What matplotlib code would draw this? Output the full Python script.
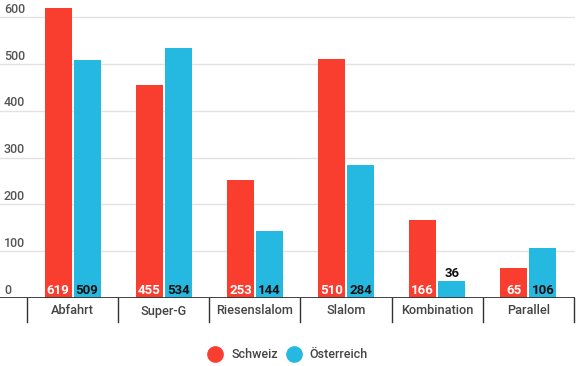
import matplotlib
matplotlib.use("Agg")
import matplotlib.pyplot as plt
import numpy as np

categories = ["Abfahrt", "Super-G", "Riesenslalom", "Slalom", "Kombination", "Parallel"]
schweiz = [619, 455, 253, 510, 166, 65]
oesterreich = [509, 534, 144, 284, 36, 106]
series_names = ["Schweiz", "Österreich"]
yticks = [0, 100, 200, 300, 400, 500, 600]

RED = "#F93E30"
BLUE = "#25B9E1"
plt.rcParams['font.family'] = ['Roboto', 'DejaVu Sans']

W, H = 582, 366
fig = plt.figure(figsize=(W/100, H/100), dpi=100)
top_px = 17 - 281 * (630 - 600) / 600
ax = fig.add_axes([0, (H-298)/H, 575/W, (298-top_px)/H])
ax.set_ylim(0, 630)
unit = 91.2
ax.set_xlim(-0.5 - 27/unit, 5.5 + 1/unit)

x = np.arange(len(categories))
bw = 27/unit
off = 14.5/unit
ax.bar(x - off, schweiz, bw, color=RED, zorder=3)
ax.bar(x + off, oesterreich, bw, color=BLUE, zorder=3)

for xi, v in zip(x, schweiz):
    if v >= 60:
        ax.text(xi - off, 2, str(v), ha='center', va='bottom', color='white', fontsize=9.5, fontweight='bold', zorder=4)
    else:
        ax.text(xi - off, v + 3, str(v), ha='center', va='bottom', color='#111', fontsize=9.5, fontweight='bold', zorder=4)
for xi, v in zip(x, oesterreich):
    if v >= 60:
        ax.text(xi + off, 2, str(v), ha='center', va='bottom', color='#111', fontsize=9.5, fontweight='bold', zorder=4)
    else:
        ax.text(xi + off, v + 3, str(v), ha='center', va='bottom', color='#111', fontsize=9.5, fontweight='bold', zorder=4)

for s in ax.spines.values():
    s.set_visible(False)
ax.set_yticks([])
ax.set_xticks([])
for t in yticks:
    if t > 0:
        ax.axhline(t, color='#e2e2e2', lw=1, zorder=1)
    ax.text(-0.5 - 23/unit, t + 2.5, str(t), ha='left', va='bottom', fontsize=9, color='#555555', fontweight='medium', zorder=4)
ax.axhline(0, color='#333333', lw=1.3, zorder=5)

scale = 630/(298-top_px)
for i in range(len(categories) + 1):
    ax.plot([i - 0.5, i - 0.5], [0, -24*scale], color='#333333', lw=1, clip_on=False, zorder=5)
for xi, c in zip(x, categories):
    ax.text(xi, -13*scale, c, ha='center', va='center', fontsize=9.2, color='#444444', fontweight='medium')

# legend
ly = 1 - 354/H
fig.lines.append(matplotlib.lines.Line2D([215/W], [ly], marker='o', markersize=11, color=RED, transform=fig.transFigure, linestyle='none'))
fig.text(231/W, ly, series_names[0], ha='left', va='center', fontsize=9, color='#444444', fontweight='medium')
fig.lines.append(matplotlib.lines.Line2D([294/W], [ly], marker='o', markersize=11, color=BLUE, transform=fig.transFigure, linestyle='none'))
fig.text(309/W, ly, series_names[1], ha='left', va='center', fontsize=9, color='#444444', fontweight='medium')

fig.savefig("out.png", dpi=100)
